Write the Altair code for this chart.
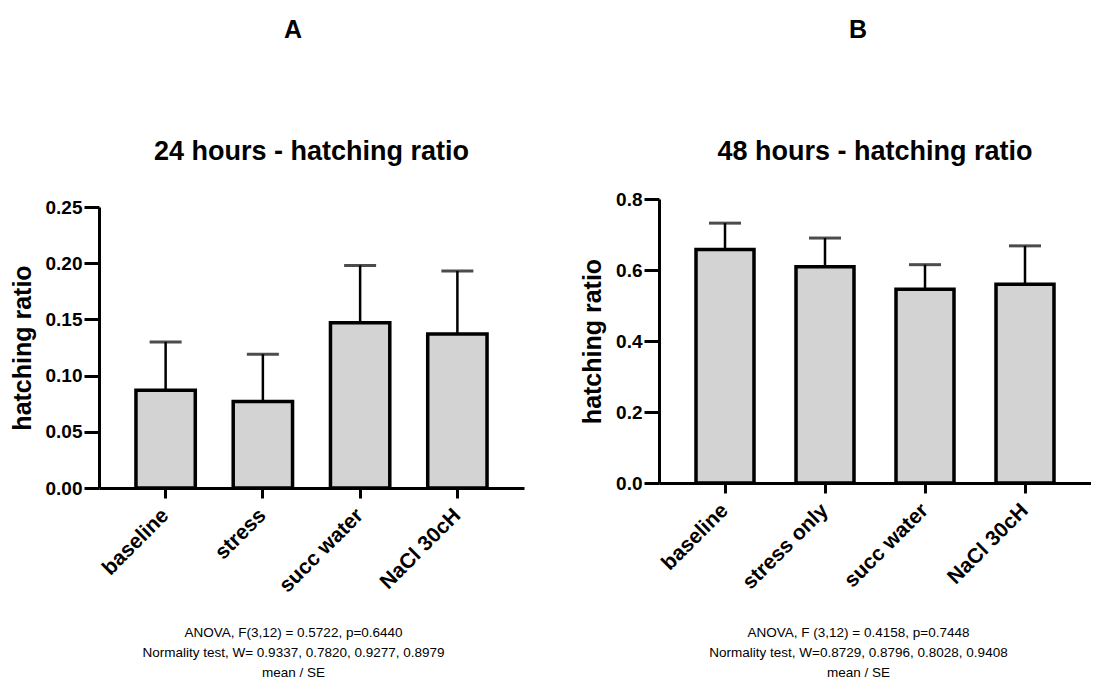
import altair as alt
import pandas as pd

# ---- data ----
groups_a = ["baseline", "stress", "succ water", "NaCl 30cH"]
mean_a = [0.087, 0.077, 0.147, 0.137]
se_a = [0.043, 0.042, 0.051, 0.056]

groups_b = ["baseline", "stress only", "succ water", "NaCl 30cH"]
mean_b = [0.658, 0.609, 0.546, 0.560]
se_b = [0.074, 0.081, 0.069, 0.108]

ticks_a = [0.0, 0.05, 0.10, 0.15, 0.20, 0.25]
ticks_b = [0.0, 0.2, 0.4, 0.6, 0.8]

title_a = "24 hours - hatching ratio"
title_b = "48 hours - hatching ratio"
foot_a = ["ANOVA, F(3,12) = 0.5722, p=0.6440",
          "Normality test, W= 0.9337, 0.7820, 0.9277, 0.8979",
          "mean / SE"]
foot_b = ["ANOVA, F (3,12) = 0.4158, p=0.7448",
          "Normality test, W=0.8729, 0.8796, 0.8028, 0.9408",
          "mean / SE"]

FONT = "Liberation Sans"


def panel(groups, mean, se, ticks, fmt, title, letter, foot,
          width, height, yrange, pin, pout, center_dx, foot_y, sub_y):
    df = pd.DataFrame({
        "group": groups,
        "mean": mean,
        "upper": [m + s for m, s in zip(mean, se)],
        "sub": [title] * len(groups),
    })
    xaxis = alt.Axis(
        title=foot, titleFont=FONT, titleFontWeight="normal", titleFontSize=13.5,
        titleLineHeight=20, titleX=center_dx, titleY=foot_y, titleAlign="center",
        titleBaseline="alphabetic", titleColor="black",
        labelAngle=-45, labelAlign="right", labelBaseline="middle",
        labelFont=FONT, labelFontWeight="bold", labelFontSize=21, labelColor="black",
        labelPadding=14, tickSize=10, tickWidth=3, tickColor="black",
        domainWidth=3, domainColor="black", grid=False,
    )
    x = alt.X("group:N", sort=groups, axis=xaxis,
              scale=alt.Scale(paddingInner=pin, paddingOuter=pout))
    yscale = alt.Scale(domain=[ticks[0], ticks[-1]], range=yrange, nice=False)
    yaxis = alt.Axis(
        title="hatching ratio", titleFont=FONT, titleFontWeight="bold", titleFontSize=25,
        titleColor="black", titlePadding=10,
        values=ticks, format=fmt, labelFont=FONT, labelFontWeight="bold",
        labelFontSize=19, labelColor="black", labelPadding=2,
        tickSize=15, tickWidth=3, tickColor="black",
        domainWidth=3, domainColor="black", grid=False,
    )
    base = alt.Chart(df)
    err = base.mark_rule(color="black", strokeWidth=2.5).encode(
        x=x, y=alt.Y("mean:Q", scale=yscale, axis=yaxis, title="hatching ratio"),
        y2="upper:Q")
    cap = base.mark_tick(color="black", thickness=3, size=32).encode(
        x=x, y=alt.Y("upper:Q", scale=yscale, title="hatching ratio"))
    bars = base.mark_bar(fill="#d3d3d3", stroke="black", strokeWidth=3.5).encode(
        x=x, y=alt.Y("mean:Q", scale=yscale, title="hatching ratio"))
    sub = alt.Chart(df.head(1)).mark_text(
        font=FONT, fontWeight="bold", fontSize=27, baseline="alphabetic", align="center",
        color="black").encode(text="sub:N", x=alt.value(width / 2), y=alt.value(sub_y))
    return alt.layer(err, bars, cap, sub).properties(
        width=width, height=height,
        title=alt.TitleParams(text=letter, font=FONT, fontWeight="bold", fontSize=25,
                              color="black", anchor="middle", offset=95,
                              dx=center_dx - width / 2),
    )


pa = panel(groups_a, mean_a, se_a, ticks_a, ".2f", title_a, "A", foot_a,
           425, 289, [289, 8], 0.39, 0.38, 194, 148, -39)
pb = panel(groups_b, mean_b, se_b, ticks_b, ".1f", title_b, "B", foot_b,
           432, 284, [284, 0], 0.42, 0.37, 199, 153, -39)

chart = alt.hconcat(pa, pb, spacing=56).properties(
    padding={"left": 10, "top": 18, "right": 0, "bottom": 0},
    background="white",
).configure_view(stroke=None)

chart.save("out.html", embed_options={"renderer": "svg", "actions": False})
